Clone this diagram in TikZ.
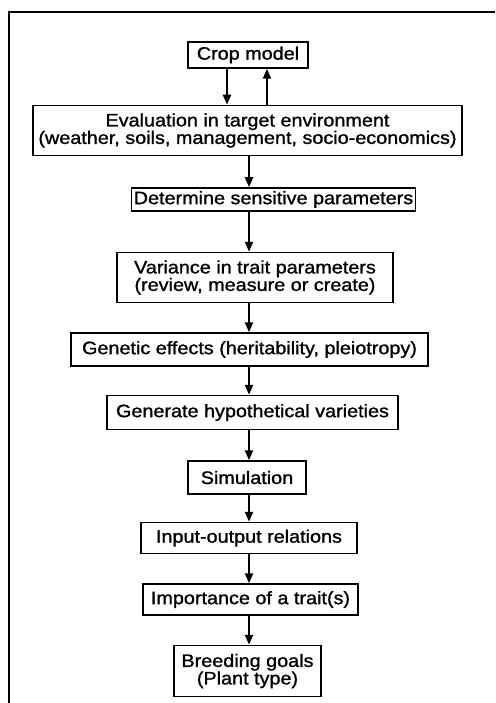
\documentclass[tikz,border=0pt]{standalone}
\usepackage{fontspec}
\setmainfont[FakeStretch=1.1, FakeBold=1.2]{Liberation Sans}
\usetikzlibrary{arrows.meta, positioning}

\begin{document}
\begin{tikzpicture}[x=1pt, y=1pt]

  \tikzset{
    block/.style = {
      rectangle, draw, line width=1.5pt, inner sep=2pt,
      align=center, font=\fontsize{18}{17.5}\selectfont, fill=white
    },
    flow/.style = {
      -{Triangle[length=10pt, width=8pt]}, line width=2.2pt
    },
    outerframe/.style = {
      line width=2.2pt
    }
  }

  \useasboundingbox (0,0) rectangle (495,-703);

  % --- Outer frame (only left and top sides show) ---------------------------
  \draw [outerframe] (9,-703) -- (9,-12) -- (495,-12);

  % --- Chain of steps ---------------------------------------------------------
  \node (crop) [block, minimum width=120pt, minimum height=26pt] at (248,-55)
    {Crop model};

  \node (eval) [block, minimum width=429pt, minimum height=50pt,
                below=36pt of crop, xshift=-0.5pt]
    {Evaluation in target environment\\(weather, soils, management, socio-economics)};

  \node (sens) [block, minimum width=259pt, minimum height=23pt,
                below=31pt of eval, xshift=26pt]
    {Determine sensitive parameters};

  \node (vari) [block, minimum width=276pt, minimum height=50pt,
                below=40pt of sens, xshift=-18.5pt]
    {Variance in trait parameters\\(review, measure or create)};

  \node (gene) [block, minimum width=357pt, minimum height=33pt,
                below=29pt of vari, xshift=-5.5pt]
    {Genetic effects (heritability, pleiotropy)};

  \node (hypo) [block, minimum width=291pt, minimum height=34pt,
                below=28pt of gene, xshift=3pt]
    {Generate hypothetical varieties};

  \node (simu) [block, minimum width=118pt, minimum height=33pt,
                below=30pt of hypo, xshift=-5.5pt]
    {Simulation};

  \node (inout) [block, minimum width=216pt, minimum height=31pt,
                 below=27pt of simu, xshift=2pt]
    {Input-output relations};

  \node (impo) [block, minimum width=215pt, minimum height=31pt,
                below=29pt of inout, xshift=1.5pt]
    {Importance of a trait(s)};

  \node (goal) [block, minimum width=147pt, minimum height=51pt,
                below=29pt of impo, xshift=-3pt]
    {Breeding goals\\(Plant type)};

  % --- Connectors -------------------------------------------------------------
  \coordinate (axis) at (249,0);
  \coordinate (down) at (227,0);
  \coordinate (up)   at (267,0);

  \draw [flow] (crop.south -| down) -- (eval.north -| down);
  \draw [flow] (eval.north -| up)   -- (crop.south -| up);
  \draw [flow] (eval.south -| axis)  -- (sens.north -| axis);
  \draw [flow] (sens.south -| axis)  -- (vari.north -| axis);
  \draw [flow] (vari.south -| axis)  -- (gene.north -| axis);
  \draw [flow] (gene.south -| axis)  -- (hypo.north -| axis);
  \draw [flow] (hypo.south -| axis)  -- (simu.north -| axis);
  \draw [flow] (simu.south -| axis)  -- (inout.north -| axis);
  \draw [flow] (inout.south -| axis) -- (impo.north -| axis);
  \draw [flow] (impo.south -| axis)  -- (goal.north -| axis);

\end{tikzpicture}
\end{document}
